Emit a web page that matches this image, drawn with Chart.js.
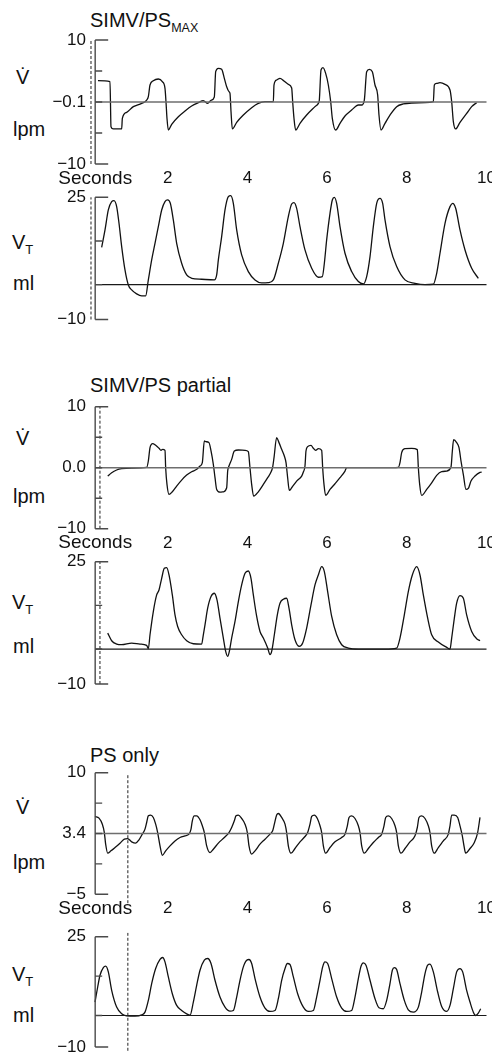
<!DOCTYPE html>
<html><head><meta charset="utf-8">
<script src="https://cdn.jsdelivr.net/npm/chart.js@4.4.1/dist/chart.umd.min.js"></script>
<style>
html,body{margin:0;padding:0;background:#fff;}
body{width:492px;height:1055px;position:relative;overflow:hidden;font-family:"Liberation Sans",Arial,Helvetica,sans-serif;color:#111;}
canvas{position:absolute;left:0;}
.lbl{position:absolute;white-space:nowrap;font-size:20px;line-height:20px;}
.sub{font-size:13px;position:relative;top:5px;}
</style></head><body>

<div class="lbl" style="left:90px;top:10px">SIMV/PS<span class="sub" style="font-size:12.5px;top:4.5px">MAX</span></div>
<div class="lbl" style="left:16px;top:67px">V̇</div>
<div class="lbl" style="left:13px;top:119px">lpm</div>
<div class="lbl" style="left:12px;top:232px">V<span class="sub">T</span></div>
<div class="lbl" style="left:13px;top:273px">ml</div>

<div class="lbl" style="left:90px;top:375px">SIMV/PS partial</div>
<div class="lbl" style="left:16px;top:428px">V̇</div>
<div class="lbl" style="left:13px;top:486px">lpm</div>
<div class="lbl" style="left:12px;top:592px">V<span class="sub">T</span></div>
<div class="lbl" style="left:13px;top:636px">ml</div>

<div class="lbl" style="left:90px;top:745px">PS only</div>
<div class="lbl" style="left:16px;top:797px">V̇</div>
<div class="lbl" style="left:13px;top:852px">lpm</div>
<div class="lbl" style="left:12px;top:964px">V<span class="sub">T</span></div>
<div class="lbl" style="left:13px;top:1005px">ml</div>

<script>
// ---------- DATA ----------
const xTickValues = [0.18, 2, 4, 6, 8, 10];
const xTickLabels = ['Seconds', '2', '4', '6', '8', '10'];
const axisTime = 0.18;
const timeMin = 0, timeMax = 10;

const flowTicks12 = [-10, -5, 0, 5, 10];
const flowTickLabels1 = ['\u221210', '', '\u22120.1', '', '10'];
const flowTickLabels2 = ['\u221210', '', '0.0', '', '10'];
const flowTicks3 = [-5, -1.25, 2.5, 6.25, 10];
const flowTickLabels3 = ['\u22125', '', '3.4', '', '10'];
const volTicks = [-10, 0, 12.5, 25];
const volTickLabels = ['\u221210', '', '', '25'];

const markerTimes = [0.075, 0.30, 1.0];

// Panel 1: SIMV/PS max — flow (lpm)
const p1FlowT = [0.25,0.552,0.577,0.636,0.845,0.862,0.970,1.138,1.347,1.472,
 1.514,1.556,1.639,1.765,1.865,1.932,1.957,1.982,2.016,2.100,
 2.267,2.434,2.601,2.769,2.894,3.003,3.087,3.170,3.204,3.271,
 3.354,3.421,3.480,3.538,3.563,3.589,3.622,3.731,3.898,4.107,
 4.274,4.442,4.651,4.667,4.734,4.818,4.918,5.027,5.111,5.136,
 5.169,5.211,5.320,5.487,5.696,5.780,5.805,5.847,5.897,5.964,
 6.031,6.090,6.131,6.215,6.324,6.449,6.616,6.742,6.784,6.868,
 6.934,6.993,7.060,7.135,7.202,7.269,7.302,7.353,7.453,7.578,
 7.746,7.913,8.122,8.457,8.666,8.691,8.750,8.833,8.959,9.084,
 9.126,9.168,9.226,9.335,9.503,9.628,9.753];
const p1FlowV = [3.44,3.28,-3.98,-4.35,-4.35,-2.63,-1.67,-0.75,-0.22,0.32,
 0.86,2.74,3.44,3.71,3.28,2.20,0.05,-2.63,-4.52,-3.60,
 -2.37,-1.45,-0.65,-0.11,0.22,-0.22,0.27,0.81,4.89,5.43,
 5.27,3.82,2.47,1.67,1.40,-1.56,-4.35,-3.28,-2.10,-0.91,
 -0.22,0.05,0.05,2.74,3.55,3.82,3.39,2.85,2.26,0.05,
 -2.63,-4.52,-3.44,-2.10,-0.75,-0.22,0.32,5.16,5.54,4.62,
 2.74,0.05,-2.63,-4.52,-3.44,-2.26,-1.29,-0.59,-0.48,-0.48,
 0.32,4.89,5.27,4.89,2.74,1.13,-2.10,-4.52,-3.44,-2.10,
 -0.75,-0.32,-0.16,-0.11,0.05,2.74,3.01,3.12,2.85,1.94,
 0.05,-3.17,-4.35,-3.28,-1.83,-0.75,-0.11];

// Panel 1: volume (ml)
const p1VolT = [0.343,0.427,0.510,0.594,0.652,0.719,0.778,0.845,0.928,1.012,
 1.096,1.221,1.347,1.447,1.514,1.598,1.681,1.765,1.849,1.932,
 1.999,2.066,2.141,2.225,2.350,2.476,2.601,2.852,3.170,3.229,
 3.271,3.354,3.438,3.522,3.580,3.647,3.731,3.856,4.023,4.191,
 4.358,4.525,4.651,4.776,4.902,5.027,5.111,5.169,5.236,5.320,
 5.445,5.613,5.780,5.880,5.931,5.989,6.073,6.131,6.181,6.240,
 6.324,6.449,6.616,6.784,6.909,6.993,7.077,7.160,7.244,7.328,
 7.394,7.453,7.578,7.746,7.955,8.206,8.457,8.666,8.750,8.833,
 8.959,9.084,9.151,9.226,9.335,9.461,9.628,9.795];
const p1VolV = [10.69,15.65,21.37,23.76,24.05,22.33,17.56,10.88,4.20,-0.10,
 -1.53,-2.67,-3.24,-3.24,1.34,7.06,11.83,16.60,21.37,23.76,
 24.24,23.28,18.51,11.83,6.11,2.77,1.81,1.53,1.34,2.77,
 7.06,13.74,21.37,25.19,25.48,23.28,15.65,8.49,3.72,1.34,
 0.48,0.57,1.34,6.11,11.83,19.47,23.09,23.47,21.85,16.60,
 9.92,4.68,2.10,2.29,6.11,12.79,20.42,24.24,25.00,23.28,
 16.60,8.97,3.72,0.86,0.19,2.29,8.02,16.60,23.28,24.71,
 23.28,18.51,10.88,5.15,1.34,0.38,0,0.10,3.24,8.97,
 17.56,22.33,23.28,21.85,15.65,9.92,4.68,1.81];

// Panel 2: SIMV/PS partial — flow
const p2FlowT = [0.494,0.594,0.719,0.845,1.096,1.472,1.514,1.556,1.623,1.698,
 1.748,1.782,1.832,1.874,1.932,1.949,1.982,2.033,2.116,2.225,
 2.350,2.476,2.601,2.727,2.811,2.869,2.919,2.953,3.036,3.087,
 3.145,3.187,3.229,3.312,3.396,3.480,3.505,3.538,3.605,3.672,
 3.773,3.940,4.023,4.065,4.107,4.157,4.274,4.400,4.509,4.592,
 4.634,4.668,4.734,4.793,4.860,4.927,4.969,5.010,5.052,5.111,
 5.236,5.362,5.404,5.445,5.470,5.512,5.596,5.655,5.713,5.780,
 5.864,5.889,5.922,5.964,6.073,6.198,6.324,6.449,6.491,7.453,
 7.787,7.829,7.871,7.955,8.122,8.264,8.290,8.323,8.373,8.499,
 8.624,8.750,8.875,9.001,9.109,9.143,9.176,9.251,9.310,9.360,
 9.418,9.485,9.544,9.611,9.711,9.837,9.879];
const p2FlowV = [-1.37,-0.82,-0.38,-0.16,-0.05,0.05,1.10,3.29,3.95,3.67,
 3.40,3.18,2.85,3.01,2.85,0,-2.74,-4.38,-3.95,-3.01,
 -2.03,-1.21,-0.66,-0.27,0.27,0.82,4.38,4.27,4.11,2.74,
 0.55,-1.64,-3.56,-4.00,-3.95,-3.29,-0.55,0.27,1.37,2.74,
 2.90,2.85,2.63,0,-2.74,-4.66,-3.95,-2.74,-1.64,-0.71,
 0.11,1.64,4.93,4.11,3.01,1.92,0.82,-1.64,-3.73,-3.29,
 -2.19,-1.37,-0.71,0.27,2.74,3.45,3.67,3.18,2.85,3.12,
 2.85,0,-2.74,-4.55,-3.56,-2.63,-1.64,-0.55,0,0,
 0.05,0.82,2.47,3.12,3.18,2.96,0,-2.74,-4.55,-3.56,
 -2.47,-1.26,-0.66,-0.55,0.11,2.74,4.60,4.11,3.29,1.10,
 -1.10,-3.56,-3.40,-2.19,-1.37,-0.77,-0.71];

// Panel 2: volume
const p2VolT = [0.494,0.594,0.719,0.845,1.096,1.305,1.472,1.514,1.556,1.639,
 1.723,1.782,1.849,1.915,1.974,2.033,2.116,2.183,2.250,2.350,
 2.476,2.643,2.852,2.894,2.936,3.003,3.087,3.170,3.237,3.312,
 3.396,3.455,3.505,3.547,3.605,3.689,3.773,3.856,3.940,4.023,
 4.090,4.149,4.233,4.316,4.400,4.509,4.567,4.609,4.676,4.751,
 4.818,4.902,4.985,5.044,5.111,5.194,5.303,5.387,5.487,5.596,
 5.696,5.780,5.864,5.931,6.014,6.115,6.240,6.366,6.533,6.784,
 7.453,7.746,7.829,7.938,8.038,8.139,8.248,8.331,8.415,8.524,
 8.624,8.791,9.001,9.084,9.126,9.193,9.251,9.335,9.419,9.502,
 9.628,9.753,9.837];
const p2VolV = [4.56,2.38,1.43,1.24,1.71,1.43,1.05,0.10,4.09,10.74,
 15.49,16.92,20.25,23.10,23.29,21.20,15.49,9.79,6.46,4.09,
 2.38,1.52,1.43,4.09,6.94,11.69,15.02,15.97,14.07,8.84,
 3.14,-0.67,-2.09,-0.67,3.14,7.89,13.59,18.35,21.67,22.34,
 20.25,15.49,9.32,5.04,3.14,0.29,-1.62,-0.67,4.09,9.79,
 13.12,14.26,14.54,11.69,6.94,2.66,0.76,1.71,5.99,12.64,
 18.35,21.20,23.57,22.15,16.44,9.32,4.09,1.24,0.29,0,
 0,0.29,3.14,9.79,16.44,21.20,23.57,21.20,15.49,8.84,
 4.09,2.00,0.48,0,3.14,8.84,13.12,15.30,14.54,9.79,
 5.04,2.95,2.38];

// Panel 3: PS only — flow
const p3FlowT = [0.176,0.276,0.360,0.410,0.443,0.494,0.577,0.678,0.803,0.912,
 0.995,1.096,1.196,1.280,1.363,1.430,1.472,1.514,1.573,1.639,
 1.698,1.748,1.807,1.865,1.949,2.058,2.183,2.309,2.434,2.534,
 2.585,2.618,2.668,2.727,2.811,2.869,2.919,2.978,3.061,3.145,
 3.271,3.421,3.538,3.605,3.672,3.714,3.773,3.856,3.940,3.998,
 4.040,4.107,4.191,4.316,4.442,4.567,4.634,4.676,4.734,4.776,
 4.860,4.944,4.985,5.027,5.094,5.194,5.320,5.445,5.512,5.571,
 5.613,5.680,5.755,5.822,5.864,5.906,5.964,6.073,6.198,6.366,
 6.449,6.508,6.550,6.616,6.700,6.784,6.826,6.868,6.934,7.035,
 7.160,7.286,7.369,7.428,7.470,7.537,7.620,7.704,7.746,7.788,
 7.855,7.955,8.080,8.206,8.264,8.306,8.373,8.457,8.540,8.582,
 8.624,8.691,8.791,8.917,9.042,9.084,9.126,9.193,9.276,9.335,
 9.393,9.435,9.477,9.586,9.695,9.778,9.837];
const p3FlowV = [4.60,4.40,3.65,2.62,1.18,0.07,0.36,0.77,1.31,1.80,
 1.88,1.47,1.31,1.72,2.42,3.04,3.86,4.68,4.77,4.48,
 3.65,2.62,0.98,-0.18,0.36,0.98,1.59,2.01,2.21,2.42,
 3.04,4.07,4.68,4.68,4.19,3.45,2.62,0.98,0.15,0.56,
 1.31,2.01,2.62,3.24,4.07,4.68,4.77,4.35,3.65,2.62,
 0.98,-0.05,0.36,1.18,1.80,2.42,2.83,3.65,4.77,4.97,
 4.48,3.65,2.62,0.98,0.07,0.65,1.47,2.13,2.62,3.65,
 4.60,4.77,4.35,3.45,2.62,0.98,0.07,0.77,1.47,2.01,
 2.42,3.45,4.48,4.68,4.35,3.45,2.62,0.98,0.07,0.65,
 1.39,2.01,2.42,3.45,4.48,4.68,4.35,3.45,2.62,0.98,
 0.07,0.65,1.47,2.21,3.24,4.48,4.68,4.35,3.45,2.62,
 0.98,0.07,0.77,1.59,2.42,3.45,4.77,4.77,4.48,3.45,
 2.21,0.98,0.07,0.65,1.39,2.62,4.48];

// Panel 3: volume
const p3VolT = [0.176,0.243,0.301,0.385,0.443,0.510,0.594,0.719,0.845,0.970,
 1.179,1.347,1.430,1.514,1.598,1.698,1.807,1.874,1.932,2.016,
 2.116,2.225,2.350,2.476,2.560,2.643,2.727,2.811,2.919,3.003,
 3.087,3.187,3.312,3.438,3.563,3.647,3.731,3.814,3.898,3.982,
 4.040,4.107,4.191,4.316,4.442,4.567,4.693,4.776,4.860,4.944,
 5.002,5.069,5.153,5.261,5.404,5.529,5.655,5.738,5.822,5.889,
 5.947,6.014,6.115,6.240,6.366,6.491,6.616,6.700,6.784,6.851,
 6.909,6.976,7.077,7.202,7.302,7.411,7.495,7.578,7.637,7.687,
 7.746,7.829,7.938,8.038,8.164,8.290,8.373,8.457,8.524,8.582,
 8.666,8.775,8.875,9.001,9.084,9.168,9.251,9.335,9.402,9.502,
 9.586,9.670,9.728,9.795,9.854];
const p3VolV = [4.26,9.04,12.77,15.21,15.64,13.83,7.98,2.66,0.53,-0.11,
 -0.21,0.21,1.06,4.79,10.11,14.89,17.77,18.40,17.02,12.23,
 6.91,3.19,1.60,0.53,0.11,4.26,9.57,14.36,17.55,18.09,
 16.49,11.17,5.85,2.66,1.38,1.60,5.85,11.17,15.43,17.55,
 17.77,16.49,11.70,5.85,2.34,1.28,1.60,5.32,11.17,14.89,
 16.49,16.17,12.23,6.91,2.66,1.28,1.60,5.85,11.17,15.43,
 17.02,16.49,11.70,5.85,2.34,1.28,1.60,5.85,11.70,15.64,
 16.70,15.96,11.17,5.32,2.45,2.13,4.79,10.11,14.36,15.21,
 14.57,10.11,4.79,1.81,1.06,2.66,7.45,13.30,15.96,16.28,
 13.83,7.45,2.87,1.28,3.19,8.51,13.83,14.89,13.83,7.98,
 4.26,1.06,0,0.74,2.13];

// ---------- LAYOUT ----------
const FONT = "'Liberation Sans', Arial, Helvetica, sans-serif";
const panels = [
  {areaTop:40,    areaBottom:164,   flow:true,  T:p1FlowT, V:p1FlowV, yMin:-10, yMax:10, ticks:flowTicks12, labels:flowTickLabels1, base:0,   marker:markerTimes[0], mFrom:-10, mTo:10},
  {areaTop:197.3, areaBottom:319.5, flow:false, T:p1VolT,  V:p1VolV,  yMin:-10, yMax:25, ticks:volTicks,    labels:volTickLabels,   base:0,   marker:markerTimes[0], mFrom:-10, mTo:25},
  {areaTop:406.7, areaBottom:528.7, flow:true,  T:p2FlowT, V:p2FlowV, yMin:-10, yMax:10, ticks:flowTicks12, labels:flowTickLabels2, base:0,   marker:markerTimes[1], mFrom:-10, mTo:10},
  {areaTop:561.7, areaBottom:684,   flow:false, T:p2VolT,  V:p2VolV,  yMin:-10, yMax:25, ticks:volTicks,    labels:volTickLabels,   base:0,   marker:markerTimes[1], mFrom:-10, mTo:25},
  {areaTop:772.7, areaBottom:894.3, flow:true,  T:p3FlowT, V:p3FlowV, yMin:-5,  yMax:10, ticks:flowTicks3,  labels:flowTickLabels3, base:2.5, marker:markerTimes[2], mFrom:-6.1, mTo:9.7},
  {areaTop:936.7, areaBottom:1047,  flow:false, T:p3VolT,  V:p3VolV,  yMin:-10, yMax:25, ticks:volTicks,    labels:volTickLabels,   base:0,   marker:markerTimes[2], mFrom:-11.2, mTo:26.2}
];

// y axis drawn as a bracket with inward tick marks, at axisTime on the x scale
const axisPlugin = {
  id: 'bracketAxis',
  afterDatasetsDraw(chart) {
    const {ctx, scales: {x, y}} = chart;
    const ax = x.getPixelForValue(axisTime);
    const yt = y.getPixelForValue(y.max), yb = y.getPixelForValue(y.min);
    ctx.save();
    ctx.strokeStyle = '#4a4a4a';
    ctx.lineWidth = 1.4;
    ctx.beginPath();
    ctx.moveTo(ax, yt); ctx.lineTo(ax, yb);
    y.ticks.forEach(t => {
      const py = y.getPixelForValue(t.value);
      const len = (t.value === y.max || t.value === y.min) ? 13 : 7;
      ctx.moveTo(ax, py); ctx.lineTo(ax + len, py);
    });
    ctx.stroke();
    ctx.restore();
  }
};

// time labels row under each flow panel, positioned with the x scale
const timeLabelPlugin = {
  id: 'timeLabels',
  afterDraw(chart, args, opts) {
    if (!opts.show) return;
    const {ctx, chartArea, scales: {x}} = chart;
    ctx.save();
    ctx.fillStyle = '#111';
    ctx.textAlign = 'center';
    ctx.textBaseline = 'middle';
    xTickValues.forEach((v, i) => {
      ctx.font = (i === 0 ? 19 : 17) + 'px ' + FONT;
      ctx.fillText(xTickLabels[i], x.getPixelForValue(v), chartArea.bottom + 14.5);
    });
    ctx.restore();
  }
};

panels.forEach(p => {
  const xh = p.flow ? 30 : 0;
  const canvasTop = Math.floor(p.areaTop - 14);
  const padTop = p.areaTop - canvasTop;
  const areaH = p.areaBottom - p.areaTop;
  const H = Math.ceil(padTop + areaH + xh + 14);
  const padBottom = H - padTop - areaH;
  const cv = document.createElement('canvas');
  cv.width = 492; cv.height = H;
  cv.style.top = canvasTop + 'px';
  cv.style.width = '492px'; cv.style.height = H + 'px';
  document.body.appendChild(cv);

  const pts = p.T.map((t, i) => ({x: t, y: p.V[i]}));
  new Chart(cv, {
    type: 'line',
    data: {
      datasets: [
        {data: [{x: axisTime, y: p.base}, {x: timeMax, y: p.base}],
         borderColor: p.flow ? '#6e6e6e' : '#1a1a1a', borderWidth: p.flow ? 1.6 : 1.2, pointRadius: 0, clip: false},
        {data: [{x: p.marker, y: p.mFrom}, {x: p.marker, y: p.mTo}],
         borderColor: '#222', borderWidth: 1, borderDash: [3, 2], pointRadius: 0, clip: false},
        {data: pts, borderColor: '#111', borderWidth: 1.3, pointRadius: 0,
         cubicInterpolationMode: 'monotone', clip: false}
      ]
    },
    options: {
      responsive: false, animation: false, devicePixelRatio: 1,
      events: [],
      layout: {autoPadding: false, padding: {top: padTop, bottom: padBottom, left: 0, right: 5.5}},
      plugins: {legend: {display: false}, tooltip: {enabled: false}, title: {display: false},
                timeLabels: {show: p.flow}},
      scales: {
        x: {
          type: 'linear', min: timeMin, max: timeMax, display: false
        },
        y: {
          type: 'linear', min: p.yMin, max: p.yMax,
          grid: {display: false, drawTicks: false}, border: {display: false},
          afterBuildTicks: s => { s.ticks = p.ticks.map(v => ({value: v})); },
          afterFit: s => { s.width = 88; },
          ticks: {padding: 2, color: '#111', font: {family: FONT, size: 17},
                  callback: (v, i) => p.labels[i]}
        }
      }
    },
    plugins: [axisPlugin, timeLabelPlugin]
  });
});
</script>
</body></html>
